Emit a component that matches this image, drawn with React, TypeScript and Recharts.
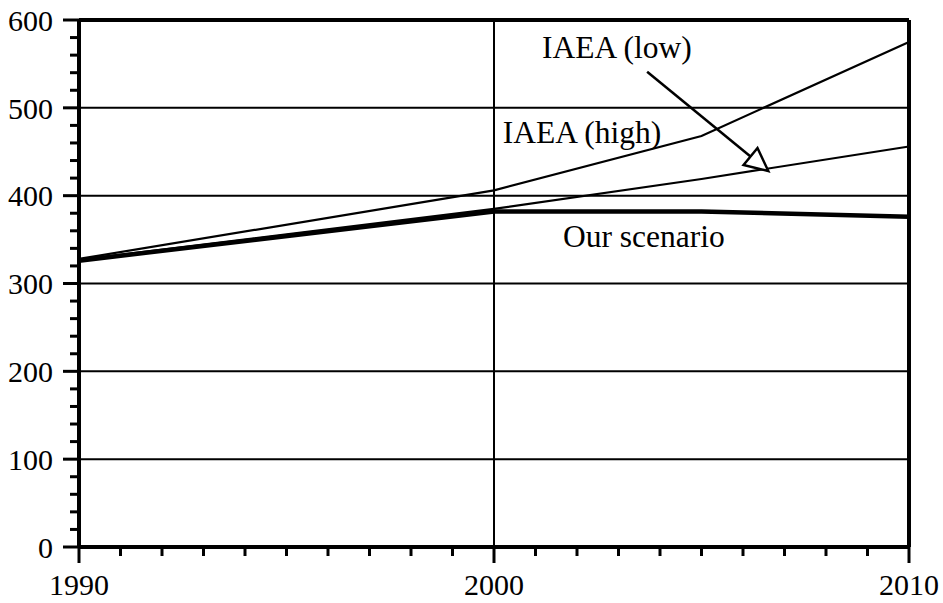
import React from 'react';
import { LineChart, Line, XAxis, YAxis, ReferenceLine, ReferenceDot } from 'recharts';

const years = [1990, 2000, 2005, 2010];
const iaeaHigh = [328, 406, 468, 575];
const iaeaLow = [327, 385, 419, 456];
const ourScenario = [326, 382, 382, 376];

const xTicks = Array.from({ length: 21 }, (_, i) => 1990 + i);
const xLabelTicks = [1990, 2000, 2010];
const yTicks = Array.from({ length: 31 }, (_, i) => i * 20);
const yLabelTicks = [0, 100, 200, 300, 400, 500, 600];
const gridY = [100, 200, 300, 400, 500];
const gridX = [2000];

const labels = [
  { text: 'IAEA (low)', x: 2002.96, y: 570 },
  { text: 'IAEA (high)', x: 2002.12, y: 473 },
  { text: 'Our scenario', x: 2003.61, y: 354 },
];
const arrowFrom = { x: 2003.69, y: 541 };
const arrowTo = { x: 2006.61, y: 428 };

const data = years.map((year, i) => ({
  year,
  high: iaeaHigh[i],
  low: iaeaLow[i],
  ours: ourScenario[i],
}));

const FONT = "'Liberation Serif', 'Times New Roman', serif";

const XTick = (props: any) => {
  const { x, y, payload } = props;
  const major = xLabelTicks.includes(payload.value);
  return (
    <g>
      <line x1={x} x2={x} y1={y} y2={y + (major ? 16 : 9)} stroke="#000" strokeWidth={3} />
      {major && (
        <text x={x} y={y + 47.5} textAnchor="middle" fontSize={30} fontFamily={FONT} fill="#000">
          {payload.value}
        </text>
      )}
    </g>
  );
};

const YTick = (props: any) => {
  const { x, y, payload } = props;
  const major = yLabelTicks.includes(payload.value);
  return (
    <g>
      <line x1={x - (major ? 16 : 9)} x2={x} y1={y} y2={y} stroke="#000" strokeWidth={3} />
      {major && (
        <text x={x - 26} y={y + 10.8} textAnchor="end" fontSize={30} fontFamily={FONT} fill="#000">
          {payload.value}
        </text>
      )}
    </g>
  );
};

const ArrowShape = (props: any) => {
  const { x1, y1, x2, y2 } = props;
  const dx = x2 - x1;
  const dy = y2 - y1;
  const len = Math.sqrt(dx * dx + dy * dy) || 1;
  const ux = dx / len;
  const uy = dy / len;
  const headLen = 23;
  const halfW = 11;
  const bx = x2 - ux * headLen;
  const by = y2 - uy * headLen;
  const p1 = `${x2},${y2}`;
  const p2 = `${bx - uy * halfW},${by + ux * halfW}`;
  const p3 = `${bx + uy * halfW},${by - ux * halfW}`;
  return (
    <g>
      <line x1={x1} y1={y1} x2={bx} y2={by} stroke="#000" strokeWidth={2.5} />
      <polygon points={`${p1} ${p2} ${p3}`} fill="#fff" stroke="#000" strokeWidth={2.5} strokeLinejoin="miter" />
    </g>
  );
};

export default function App() {
  return (
    <div style={{ position: 'absolute', left: 0, top: 0, background: '#fff' }}>
      <LineChart width={943} height={603} data={data} margin={{ top: 20, right: 34, left: 0, bottom: 0 }}>
        <XAxis
          dataKey="year"
          type="number"
          domain={[1990, 2010]}
          ticks={xTicks}
          interval={0}
          tickSize={0}
          tickMargin={0}
          tickLine={false}
          tick={<XTick />}
          height={56}
          axisLine={{ stroke: '#000', strokeWidth: 4 }}
        />
        <YAxis
          type="number"
          domain={[0, 600]}
          ticks={yTicks}
          interval={0}
          tickSize={0}
          tickMargin={0}
          tickLine={false}
          tick={<YTick />}
          width={79}
          axisLine={{ stroke: '#000', strokeWidth: 4 }}
        />
        {gridY.map((v) => (
          <ReferenceLine key={`gy${v}`} y={v} stroke="#000" strokeWidth={2} />
        ))}
        {gridX.map((v) => (
          <ReferenceLine key={`gx${v}`} x={v} stroke="#000" strokeWidth={2} />
        ))}
        <ReferenceLine y={600} stroke="#000" strokeWidth={4} />
        <ReferenceLine x={2010} stroke="#000" strokeWidth={4} />
        <Line dataKey="high" stroke="#000" strokeWidth={2.2} dot={false} isAnimationActive={false} />
        <Line dataKey="low" stroke="#000" strokeWidth={2.2} dot={false} isAnimationActive={false} />
        <Line dataKey="ours" stroke="#000" strokeWidth={4.5} dot={false} isAnimationActive={false} />
        <ReferenceLine
          segment={[arrowFrom, arrowTo]}
          stroke="#000"
          shape={(p: any) => <ArrowShape {...p} />}
        />
        {labels.map((l) => (
          <ReferenceDot
            key={l.text}
            x={l.x}
            y={l.y}
            r={1}
            fill="none"
            stroke="none"
            label={{ value: l.text, position: 'center', fontSize: 31.5, fill: '#000', fontFamily: FONT }}
          />
        ))}
      </LineChart>
    </div>
  );
}
